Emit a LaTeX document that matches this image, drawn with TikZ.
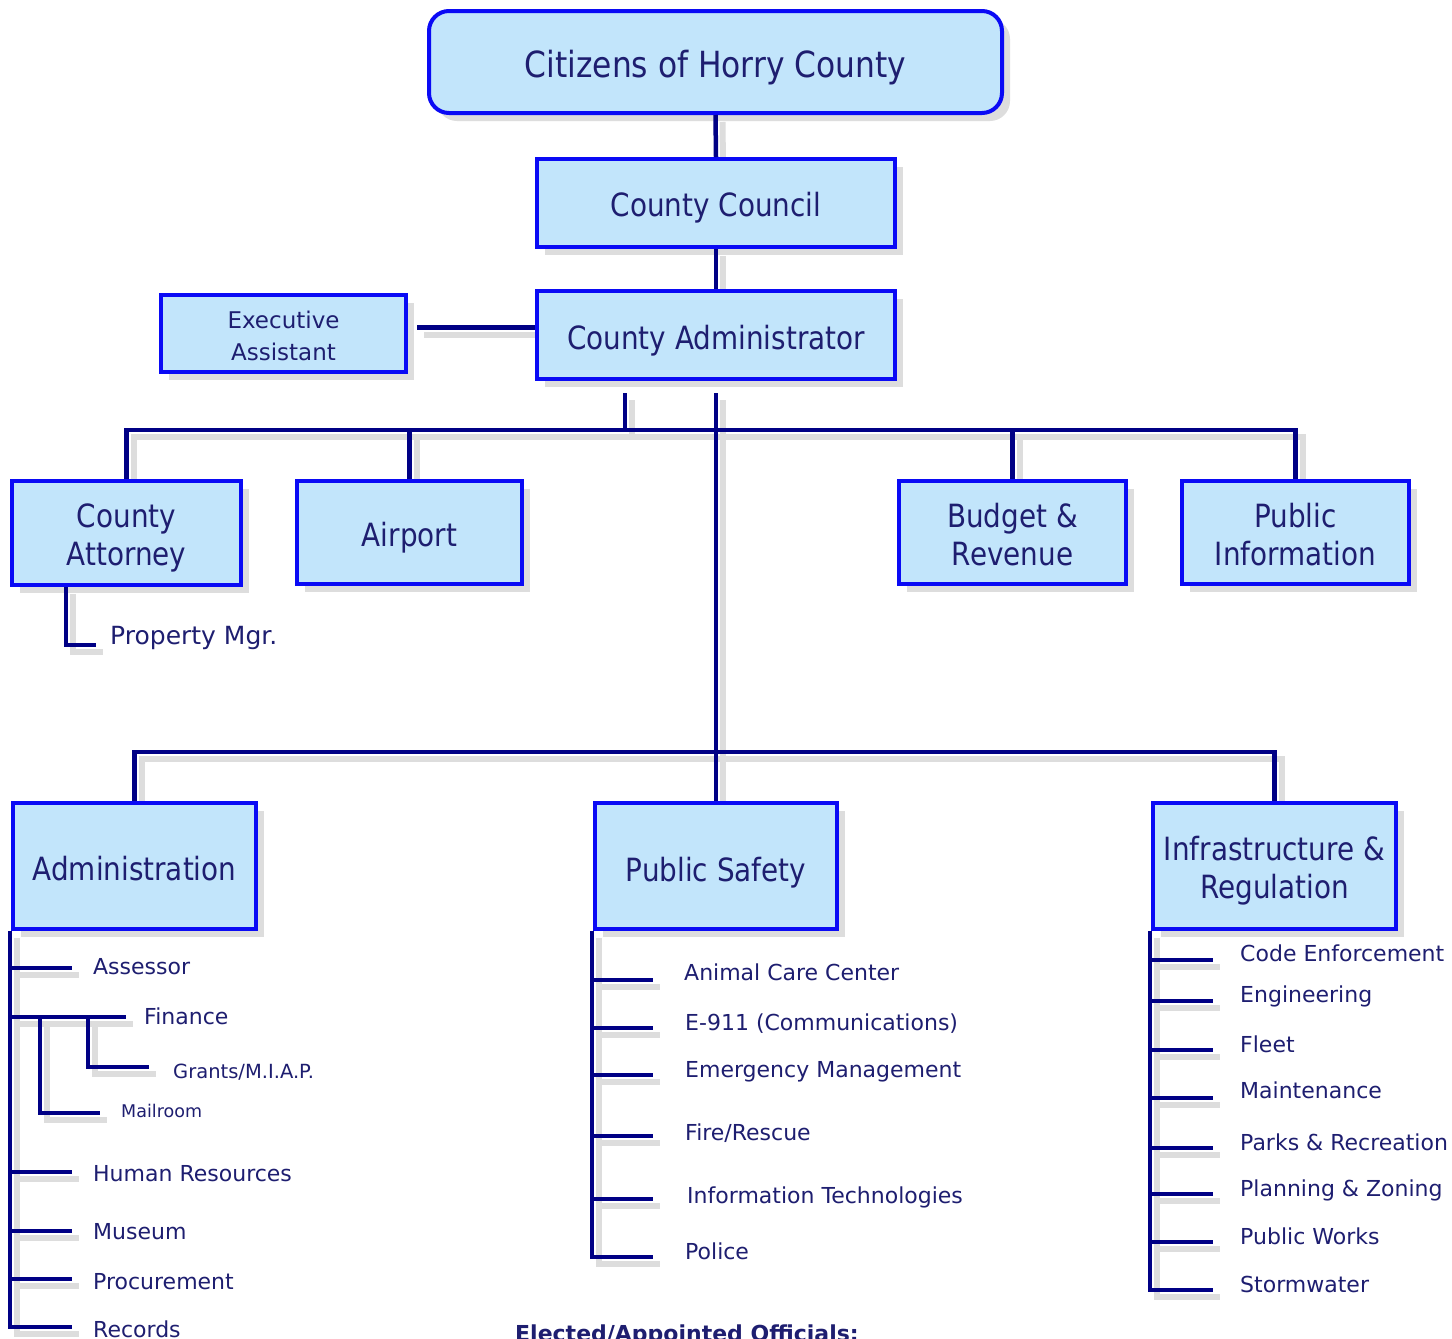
\documentclass[tikz,border=0pt]{standalone}
\usepackage{fontspec}
\setmainfont{DejaVu Sans}
\newfontfamily\bfnt{DejaVu Sans}[FakeStretch=0.87]
\usetikzlibrary{shadows,calc}
\definecolor{boxfill}{HTML}{C2E5FB}
\definecolor{boxblue}{HTML}{0A0AF5}
\definecolor{navy}{HTML}{000085}
\definecolor{txt}{HTML}{1E1E70}
\definecolor{shgray}{HTML}{DDDDDD}
\pgfdeclarelayer{back}
\pgfdeclarelayer{bg}
\pgfsetlayers{back,bg,main}
\newcommand{\Links}{%
  % top chain
  \draw[conn] (cit.south) -- (council.north);
  \draw[conn] (council.south) -- (admin.north);
  \draw[conn] (e1) -- (e1 -| admin.west);
  % second level
  \draw[conn] (atty.north) -- (atty.north |- bar) -| (pubinfo.north);
  \draw[conn] (d1) -- (d1 |- bar);
  \draw[conn] (airport.north) -- (airport.north |- bar);
  \draw[conn] (budget.north) -- (budget.north |- bar);
  \draw[conn] (p0) -- ++(0,58) -- ++(30,0);
  % third level
  \draw[conn] (adm.north) -- (adm.north |- bar2) -| (infra.north);
  \draw[conn] (d2) -- (safety.north);
  % administration list
  \draw[conn] (s1) -- (10,1327) -- (72,1327);
  \draw[conn] (10,968) -- (72,968);
  \draw[conn] (10,1017) -- (126,1017);
  \draw[conn] (40,1017) -- (40,1113) -- (100,1113);
  \draw[conn] (88,1017) -- (88,1067) -- (149,1067);
  \draw[conn] (10,1172) -- (72,1172);
  \draw[conn] (10,1231) -- (72,1231);
  \draw[conn] (10,1279) -- (72,1279);
  % public safety list
  \draw[conn] (s2) -- (592,1257) -- (653,1257);
  \foreach \yy in {980,1028,1075,1136,1199} \draw[conn] (592,\yy) -- (653,\yy);
  % infrastructure list
  \draw[conn] (s3) -- (1150,1290) -- (1213,1290);
  \foreach \yy in {960,1001,1050,1098,1148,1194,1242} \draw[conn] (1150,\yy) -- (1213,\yy);
}
\begin{document}
\begin{tikzpicture}[x=1pt,y=-1pt,
  box/.style={draw=boxblue,line width=4pt,fill=boxfill,inner sep=0pt,
    drop shadow={shadow xshift=8pt,shadow yshift=-8pt,fill=shgray,opacity=1}},
  lbl/.style={text=txt,align=center,inner sep=0pt,font=\bfnt\fontsize{32}{38}\selectfont},
  item/.style={anchor=base west,inner sep=0pt,text=txt,font=\fontsize{22}{26}\selectfont},
  conn/.style={draw=navy,line width=4.5pt},
]
\useasboundingbox (0,0) rectangle (1452,1339);
\begin{pgfonlayer}{back}
\fill[white] (0,0) rectangle (1452,1339);
\end{pgfonlayer}

% boxes
\node[box,rounded corners=20pt,minimum width=573pt,minimum height=102pt,
  label={[lbl,yshift=-6pt,font=\bfnt\fontsize{36}{42}\selectfont]center:{Citizens of Horry County}}] (cit) at (715.5,62) {};
\node[box,minimum width=358pt,minimum height=88pt,
  label={[lbl,yshift=-5pt]center:{County Council}}] (council) at (716,203) {};
\node[box,minimum width=358pt,minimum height=88pt,
  label={[lbl,yshift=-6pt]center:{County Administrator}}] (admin) at (716,335) {};
\node[box,minimum width=245pt,minimum height=77pt,
  label={[lbl,yshift=-2pt,font=\fontsize{23}{32}\selectfont]center:{Executive\\Assistant}}] (exec) at (283.5,333.5) {};
\node[box,minimum width=229pt,minimum height=104pt,
  label={[lbl,yshift=-5pt]center:{County\\Attorney}}] (atty) at (126.5,533) {};
\node[box,minimum width=225pt,minimum height=103pt,
  label={[lbl,yshift=-5pt]center:{Airport}}] (airport) at (409.5,532.5) {};
\node[box,minimum width=227pt,minimum height=103pt,
  label={[lbl,yshift=-2pt]center:{Budget \&\\Revenue}}] (budget) at (1012.5,532.5) {};
\node[box,minimum width=227pt,minimum height=103pt,
  label={[lbl,yshift=-2pt]center:{Public\\Information}}] (pubinfo) at (1295.5,532.5) {};
\node[box,minimum width=243pt,minimum height=126pt,
  label={[lbl,yshift=-3pt]center:{Administration}}] (adm) at (134.5,866) {};
\node[box,minimum width=242pt,minimum height=126pt,
  label={[lbl,yshift=-7pt]center:{Public Safety}}] (safety) at (716,866) {};
\node[box,minimum width=243pt,minimum height=126pt,
  label={[lbl,yshift=-5pt]center:{Infrastructure \&\\Regulation}}] (infra) at (1274.5,866) {};

% helper coordinates
\coordinate (e1) at ($(exec.east)+(9,-6)$);
\coordinate (d1) at ($(admin.south)+(-91,12)$);
\coordinate (d2) at ($(admin.south)+(0,12)$);
\coordinate (bar) at (0,430);
\coordinate (bar2) at (0,752);
\coordinate (p0) at ($(atty.south west)+(56,0)$);
\coordinate (s1) at (10,931);
\coordinate (s2) at (592,931);
\coordinate (s3) at (1150,931);

% items
\node[item,font=\fontsize{25}{30}\selectfont] (propmgr) at (110,644) {Property Mgr.};
\node[item] (asr) at (93,974) {Assessor};
\node[item] (fin) at (144,1024) {Finance};
\node[item,font=\fontsize{19.5}{23}\selectfont] (grants) at (173,1078) {Grants/M.I.A.P.};
\node[item,font=\fontsize{17.5}{21}\selectfont] (mail) at (121,1117) {Mailroom};
\node[item] (hr) at (93,1181) {Human Resources};
\node[item] (mus) at (93,1239) {Museum};
\node[item] (proc) at (93,1289) {Procurement};
\node[item] (rec) at (93,1337) {Records};

\node[item] (acc) at (684,980) {Animal Care Center};
\node[item] (e911) at (685,1030) {E-911 (Communications)};
\node[item] (em) at (685,1077) {Emergency Management};
\node[item] (fire) at (685,1140) {Fire/Rescue};
\node[item] (it) at (687,1203) {Information Technologies};
\node[item] (pol) at (685,1259) {Police};

\node[item] (code) at (1240,961) {Code Enforcement};
\node[item] (eng) at (1240,1002) {Engineering};
\node[item] (fleet) at (1240,1052) {Fleet};
\node[item] (maint) at (1240,1098) {Maintenance};
\node[item] (parks) at (1240,1150) {Parks \& Recreation};
\node[item] (plan) at (1240,1196) {Planning \& Zoning};
\node[item] (pw) at (1240,1244) {Public Works};
\node[item] (storm) at (1240,1292) {Stormwater};

\node[anchor=base west,inner sep=0pt,text=txt,font=\bfseries\fontsize{22}{26}\selectfont] (elected) at (515,1341) {Elected/Appointed Officials:};

% connector shadows
\begin{pgfonlayer}{bg}
\begin{scope}[transform canvas={xshift=7pt,yshift=-7pt},conn/.style={draw=shgray,line width=6pt}]
\Links
\end{scope}
\end{pgfonlayer}
% connectors
\Links
\end{tikzpicture}
\end{document}
